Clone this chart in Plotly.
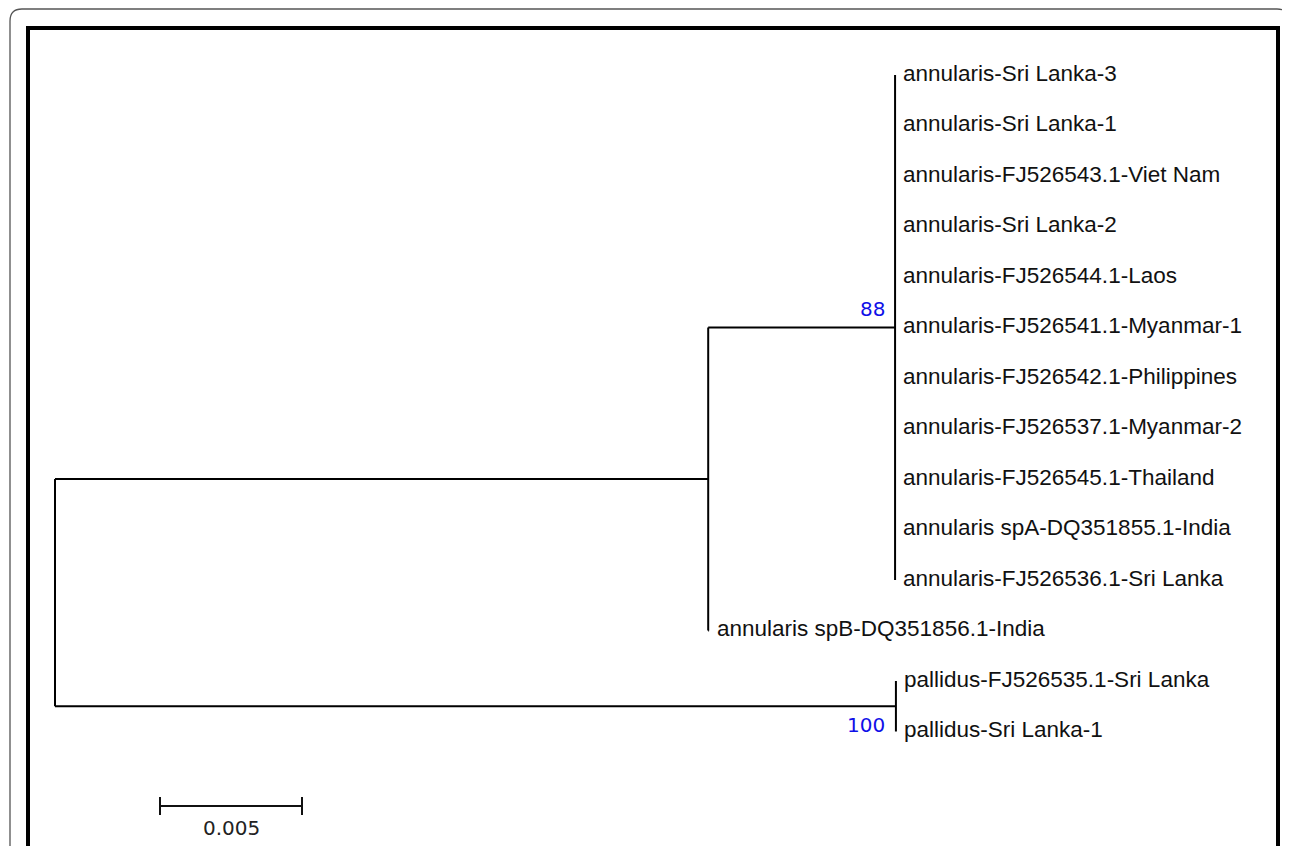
import plotly.graph_objects as go

# ---------------- data ----------------
clade_a_labels = [
    "annularis-Sri Lanka-3",
    "annularis-Sri Lanka-1",
    "annularis-FJ526543.1-Viet Nam",
    "annularis-Sri Lanka-2",
    "annularis-FJ526544.1-Laos",
    "annularis-FJ526541.1-Myanmar-1",
    "annularis-FJ526542.1-Philippines",
    "annularis-FJ526537.1-Myanmar-2",
    "annularis-FJ526545.1-Thailand",
    "annularis spA-DQ351855.1-India",
    "annularis-FJ526536.1-Sri Lanka",
]
spb_label = "annularis spB-DQ351856.1-India"
pallidus_labels = ["pallidus-FJ526535.1-Sri Lanka", "pallidus-Sri Lanka-1"]

# branch lengths (substitutions per site)
root_to_annularis = 0.0230
annularis_to_cladeA = 0.00658
annularis_to_spB = 0.00003
root_to_pallidus = 0.02961
tip_lengths_cladeA = [0.0] * len(clade_a_labels)
tip_lengths_pallidus = [0.0] * len(pallidus_labels)

bootstrap_cladeA = 88
bootstrap_pallidus = 100
scale_length = 0.005

# ---------------- layout constants (pixel mapping) ----------------
OFF = 8                      # page body margin of the html page
W, H = 1290 - OFF, 846 - OFF  # figure size
X0_PX, PX_PER_UNIT = 55, 28400.0
Y0_PX, ROW_PX = 75, 50.5

def px_to_x(p):
    return (p - X0_PX) / PX_PER_UNIT

def px_to_row(p):
    return (p - Y0_PX) / ROW_PX

# ---------------- tree geometry ----------------
n_a = len(clade_a_labels)
rows_a = list(range(n_a))
row_spb = n_a
rows_p = [n_a + 1, n_a + 2]

x_root = 0.0
x_ann = x_root + root_to_annularis
x_cladeA = x_ann + annularis_to_cladeA
x_spb = x_ann + annularis_to_spB
x_pall = x_root + root_to_pallidus

y_cladeA = (rows_a[0] + rows_a[-1]) / 2
y_ann = (y_cladeA + row_spb) / 2
y_pall = (rows_p[0] + rows_p[-1]) / 2

xs, ys = [], []
def seg(x0, y0, x1, y1):
    xs.extend([x0, x1, None]); ys.extend([y0, y1, None])

# root
seg(x_root, y_ann, x_root, y_pall)
seg(x_root, y_ann, x_ann, y_ann)
seg(x_root, y_pall, x_pall, y_pall)
# annularis node
seg(x_ann, y_cladeA, x_ann, row_spb)
seg(x_ann, y_cladeA, x_cladeA, y_cladeA)
seg(x_ann, row_spb, x_spb, row_spb)
# clade A
seg(x_cladeA, rows_a[0], x_cladeA, rows_a[-1])
for r, t in zip(rows_a, tip_lengths_cladeA):
    seg(x_cladeA, r, x_cladeA + t, r)
# pallidus
seg(x_pall, rows_p[0], x_pall, rows_p[-1])
for r, t in zip(rows_p, tip_lengths_pallidus):
    seg(x_pall, r, x_pall + t, r)

fig = go.Figure()
fig.add_trace(go.Scatter(x=xs, y=ys, mode="lines",
                         line=dict(color="black", width=2),
                         hoverinfo="skip", showlegend=False))

# scale bar
sb_x0 = px_to_x(160)
sb_y = px_to_row(806)
tick = 9 / ROW_PX
sx, sy = [], []
for a, b, c, d in [(sb_x0, sb_y, sb_x0 + scale_length, sb_y),
                   (sb_x0, sb_y - tick, sb_x0, sb_y + tick),
                   (sb_x0 + scale_length, sb_y - tick, sb_x0 + scale_length, sb_y + tick)]:
    sx.extend([a, c, None]); sy.extend([b, d, None])
fig.add_trace(go.Scatter(x=sx, y=sy, mode="lines",
                         line=dict(color="#111", width=2),
                         hoverinfo="skip", showlegend=False))

annotations = []
LABEL_FONT = dict(family="Arial, Liberation Sans", size=22.5, color="#111")
TEXT_GAP = 6 / PX_PER_UNIT
for r, lab, t in zip(rows_a, clade_a_labels, tip_lengths_cladeA):
    annotations.append(dict(x=x_cladeA + t + TEXT_GAP, y=r - 0.03, text=lab, showarrow=False,
                            xanchor="left", yanchor="middle", font=LABEL_FONT))
annotations.append(dict(x=x_spb + TEXT_GAP, y=row_spb - 0.03, text=spb_label, showarrow=False,
                        xanchor="left", yanchor="middle", font=LABEL_FONT))
for r, lab, t in zip(rows_p, pallidus_labels, tip_lengths_pallidus):
    annotations.append(dict(x=x_pall + t + TEXT_GAP, y=r - 0.03, text=lab, showarrow=False,
                            xanchor="left", yanchor="middle", font=LABEL_FONT))

BS_FONT = dict(family="DejaVu Sans", size=20, color="#1010e8")
annotations.append(dict(x=x_cladeA - 8 / PX_PER_UNIT, y=y_cladeA - 19 / ROW_PX,
                        text=str(bootstrap_cladeA), showarrow=False,
                        xanchor="right", yanchor="middle", font=BS_FONT))
annotations.append(dict(x=x_pall - 9 / PX_PER_UNIT, y=y_pall + 19 / ROW_PX,
                        text=str(bootstrap_pallidus), showarrow=False,
                        xanchor="right", yanchor="middle", font=BS_FONT))
annotations.append(dict(x=sb_x0 + scale_length / 2, y=px_to_row(828),
                        text=str(scale_length), showarrow=False,
                        xanchor="center", yanchor="middle",
                        font=dict(family="DejaVu Sans", size=20, color="#222")))

# frames (paper coordinates, margins are zero); inputs in page pixels
def px(xp):
    return (xp - OFF) / W
def py(yp):
    return 1 - (yp - OFF) / H

r = 12
L, T, R, B = 10, 9, 1289, 900
outer_path = (f"M {px(L)},{py(B)} L {px(L)},{py(T + r)} "
              f"Q {px(L)},{py(T)} {px(L + r)},{py(T)} "
              f"L {px(R - r)},{py(T)} Q {px(R)},{py(T)} {px(R)},{py(T + r)} "
              f"L {px(R)},{py(B)}")
shapes = [
    dict(type="path", xref="paper", yref="paper", path=outer_path,
         line=dict(color="#555", width=1.3)),
    dict(type="rect", xref="paper", yref="paper",
         x0=px(28), y0=py(900), x1=px(1278), y1=py(28),
         line=dict(color="black", width=4)),
]

fig.update_layout(
    width=W, height=H, autosize=False,
    margin=dict(l=0, r=0, t=0, b=0),
    paper_bgcolor="white", plot_bgcolor="white",
    xaxis=dict(range=[px_to_x(OFF), px_to_x(OFF + W)], visible=False, fixedrange=True),
    yaxis=dict(range=[px_to_row(OFF + H), px_to_row(OFF)], visible=False, fixedrange=True),
    annotations=annotations, shapes=shapes, showlegend=False,
)

fig.write_html("out.html")
